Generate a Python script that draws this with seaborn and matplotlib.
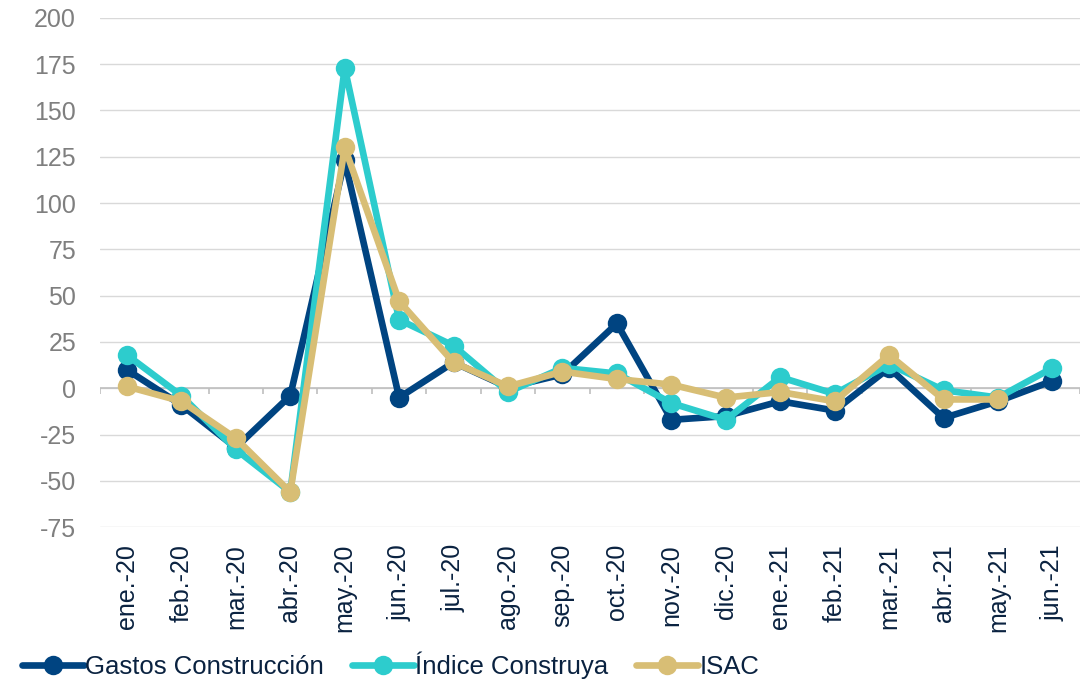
import numpy as np
import pandas as pd
import matplotlib.pyplot as plt
import seaborn as sns

meses = ["ene.-20", "feb.-20", "mar.-20", "abr.-20", "may.-20", "jun.-20",
         "jul.-20", "ago.-20", "sep.-20", "oct.-20", "nov.-20", "dic.-20",
         "ene.-21", "feb.-21", "mar.-21", "abr.-21", "may.-21", "jun.-21"]
gastos = [10, -9, -32, -4, 123, -5, 14, 0.5, 7.5, 35, -17, -15, -7, -12, 11, -16, -7, 4]
indice = [18, -4, -33, -56, 173, 37, 23, -2, 11, 8, -8, -17, 6, -3, 13, -1, -5, 11]
isac = [1, -7, -27, -56, 130, 47, 14, 1, 9, 5, 2, -5, -2, -7, 18, -6, -6, np.nan]

series = {"Gastos Construcción": gastos, "Índice Construya": indice, "ISAC": isac}
colores = {"Gastos Construcción": "#004481", "Índice Construya": "#2DCCCD", "ISAC": "#D8BE75"}

df = pd.DataFrame({"mes": meses, **series})
df["pos"] = range(len(meses))
largo = df.melt(id_vars=["mes", "pos"], var_name="serie", value_name="valor")

sns.set_style("white")
plt.rcParams["font.family"] = ["Liberation Sans", "DejaVu Sans"]
plt.rcParams["axes.unicode_minus"] = False

fig = plt.figure(figsize=(10.84, 6.83), dpi=100)
ax = fig.add_axes([0.092, 0.228, 0.904, 0.746])

for nombre in series:
    d = largo[largo["serie"] == nombre].dropna()
    sns.lineplot(data=d, x="pos", y="valor", ax=ax, color=colores[nombre],
                 linewidth=4.8, marker="o", markersize=14, markeredgewidth=0,
                 label=nombre, legend=False)

ax.set_ylim(-75, 200)
ax.set_yticks(range(-75, 201, 25))
ax.set_xlim(-0.5, len(meses) - 0.5)
ax.grid(axis="y", color="#D9D9D9", linewidth=1)
ax.set_axisbelow(True)
ax.axhline(0, color="#BFBFBF", linewidth=1.2, zorder=1)
ax.vlines(np.arange(-0.5, len(meses)), -3, 0, color="#BFBFBF", linewidth=1.2, zorder=1)
for s in ax.spines.values():
    s.set_visible(False)

ax.set_xticks(df["pos"])
ax.set_xticklabels(meses, rotation=90)
ax.tick_params(axis="both", length=0, labelsize=18)
ax.tick_params(axis="y", labelcolor="#7F7F7F", pad=17)
ax.tick_params(axis="x", pad=12, labelcolor="#0A2240")
ax.set_xlabel("")
ax.set_ylabel("")

handles, labels = ax.get_legend_handles_labels()
leg = fig.legend(handles, labels, loc="lower left", bbox_to_anchor=(0.006, -0.016), ncol=3,
                 frameon=False, fontsize=18.5, handlelength=2.4, handletextpad=0.05,
                 columnspacing=1.1, borderaxespad=0.2)
for t in leg.get_texts():
    t.set_color("#0A2240")

fig.savefig("out.png", dpi=100)
